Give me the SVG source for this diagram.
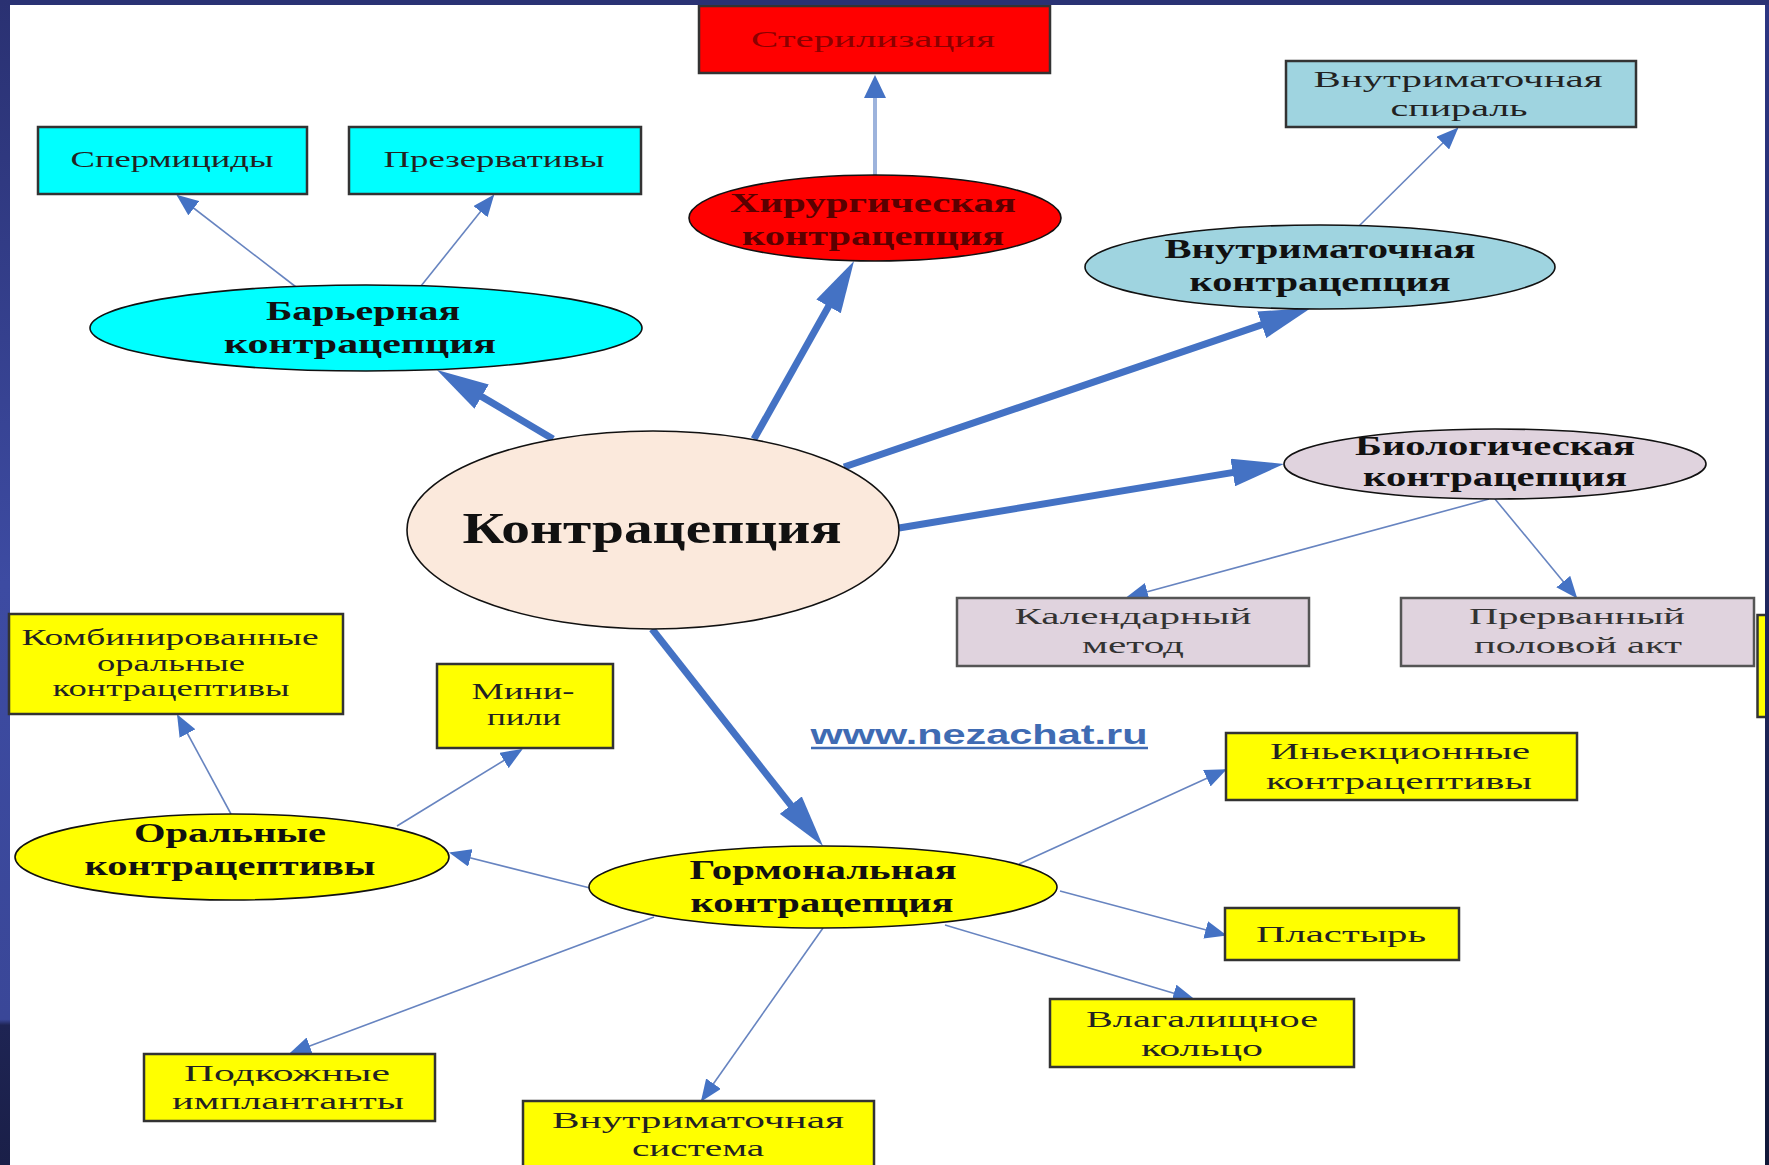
<svg xmlns="http://www.w3.org/2000/svg" width="1769" height="1165" viewBox="0 0 1769 1165">
<defs>
<linearGradient id="lstrip" x1="0" y1="0" x2="0" y2="1">
<stop offset="0" stop-color="#2a3172"/>
<stop offset="0.5" stop-color="#3d4ba2"/>
<stop offset="0.875" stop-color="#3a4798"/>
<stop offset="0.88" stop-color="#1e2453"/>
<stop offset="1" stop-color="#1a1f48"/>
</linearGradient>
<linearGradient id="rstrip" x1="0" y1="0" x2="0" y2="1">
<stop offset="0" stop-color="#2d3682"/>
<stop offset="0.3" stop-color="#252d70"/>
<stop offset="1" stop-color="#121838"/>
</linearGradient>
<marker id="big" markerUnits="userSpaceOnUse" viewBox="0 0 52 28" markerWidth="52" markerHeight="28" refX="36" refY="14" orient="auto">
<path d="M0,0 L52,14 L0,28 z" fill="#4472c4"/>
</marker>
<marker id="small" markerUnits="userSpaceOnUse" viewBox="0 0 22 18" markerWidth="22" markerHeight="18" refX="20" refY="9" orient="auto">
<path d="M0,0 L22,9 L0,18 z" fill="#4472c4"/>
</marker>
</defs>
<style>
.box{stroke:#333;stroke-width:2.5}
.ell{stroke:#111;stroke-width:1.6}
.bt{font-family:"Liberation Serif","Times New Roman",serif;font-size:24px;fill:#222;text-anchor:middle;dominant-baseline:central}
.et{font-family:"Liberation Serif","Times New Roman",serif;font-size:27px;font-weight:bold;fill:#111;text-anchor:middle;dominant-baseline:central}
.thick{stroke:#4472c4;stroke-width:7;fill:none;marker-end:url(#big)}
.thin{stroke:#6784c0;stroke-width:1.6;fill:none;marker-end:url(#small)}
</style>
<rect width="1769" height="1165" fill="#262d6c"/>
<rect x="0" y="0" width="10" height="1165" fill="url(#lstrip)"/>
<rect x="10" y="5" width="1755" height="1160" fill="#ffffff"/>

<g id="connectors">
<line class="thick" x1="553" y1="439" x2="450.7" y2="378.2"/>
<line class="thick" x1="754" y1="439" x2="846.2" y2="275"/>
<line class="thick" x1="844" y1="467" x2="1295.8" y2="313.2"/>
<line class="thick" x1="899" y1="528" x2="1268.2" y2="466.6"/>
<line class="thick" x1="652" y1="629" x2="813.1" y2="833.4"/>
<line x1="875" y1="175" x2="875" y2="95" stroke="#9db3dc" stroke-width="4"/>
<path d="M864,98 L875,75 L886,98 z" fill="#4472c4"/>
<line class="thin" x1="296" y1="287" x2="178" y2="196"/>
<line class="thin" x1="421" y1="286" x2="493" y2="196"/>
<line class="thin" x1="1359" y1="226" x2="1457" y2="129"/>
<line class="thin" x1="1489" y1="499" x2="1128" y2="597"/>
<line class="thin" x1="1495" y1="499" x2="1576" y2="597"/>
<line class="thin" x1="231" y1="814" x2="178" y2="716"/>
<line class="thin" x1="397" y1="826" x2="521" y2="750"/>
<line class="thin" x1="590" y1="888" x2="451" y2="853"/>
<line class="thin" x1="654" y1="917" x2="291" y2="1053"/>
<line class="thin" x1="823" y1="928" x2="702" y2="1100"/>
<line class="thin" x1="1019" y1="864" x2="1225" y2="770"/>
<line class="thin" x1="1060" y1="891" x2="1225" y2="935"/>
<line class="thin" x1="945" y1="925" x2="1193" y2="999"/>
</g>

<g id="sterilization">
<rect class="box" x="699" y="6" width="351" height="67" fill="#ff0000"/>
<text class="bt" x="873" y="39" textLength="244" lengthAdjust="spacingAndGlyphs" style="fill:#8b0000;font-size:23px">Стерилизация</text>
</g>
<g id="surgical">
<ellipse class="ell" cx="875" cy="218" rx="186" ry="43" fill="#ff0000"/>
<text class="et" x="873" y="203" textLength="286" lengthAdjust="spacingAndGlyphs" style="fill:#5a0000">Хирургическая</text>
<text class="et" x="873" y="236" textLength="262" lengthAdjust="spacingAndGlyphs" style="fill:#5a0000">контрацепция</text>
</g>
<g id="spermicides">
<rect class="box" x="38" y="127" width="269" height="67" fill="#00ffff"/>
<text class="bt" x="172" y="159" textLength="203" lengthAdjust="spacingAndGlyphs">Спермициды</text>
</g>
<g id="condoms">
<rect class="box" x="349" y="127" width="292" height="67" fill="#00ffff"/>
<text class="bt" x="494" y="159" textLength="221" lengthAdjust="spacingAndGlyphs">Презервативы</text>
</g>
<g id="barrier">
<ellipse class="ell" cx="366" cy="328" rx="276" ry="43" fill="#00ffff"/>
<text class="et" x="363" y="311" textLength="194" lengthAdjust="spacingAndGlyphs">Барьерная</text>
<text class="et" x="360" y="344" textLength="272" lengthAdjust="spacingAndGlyphs">контрацепция</text>
</g>
<g id="iud">
<rect class="box" x="1286" y="61" width="350" height="66" fill="#9fd4e0"/>
<text class="bt" x="1458" y="79" textLength="289" lengthAdjust="spacingAndGlyphs">Внутриматочная</text>
<text class="bt" x="1459" y="108" textLength="137" lengthAdjust="spacingAndGlyphs">спираль</text>
</g>
<g id="intrauterine">
<ellipse class="ell" cx="1320" cy="267" rx="235" ry="42" fill="#9fd4e0"/>
<text class="et" x="1320" y="249" textLength="311" lengthAdjust="spacingAndGlyphs">Внутриматочная</text>
<text class="et" x="1320" y="282" textLength="261" lengthAdjust="spacingAndGlyphs">контрацепция</text>
</g>
<g id="biological">
<ellipse class="ell" cx="1495" cy="464" rx="211" ry="35" fill="#e0d3de"/>
<text class="et" x="1495" y="446" textLength="280" lengthAdjust="spacingAndGlyphs">Биологическая</text>
<text class="et" x="1495" y="477" textLength="264" lengthAdjust="spacingAndGlyphs">контрацепция</text>
</g>
<g id="calendar">
<rect class="box" x="957" y="598" width="352" height="68" fill="#e0d3de" style="stroke:#555"/>
<text class="bt" x="1133" y="616" textLength="237" lengthAdjust="spacingAndGlyphs" style="fill:#333">Календарный</text>
<text class="bt" x="1133" y="645" textLength="102" lengthAdjust="spacingAndGlyphs" style="fill:#333">метод</text>
</g>
<g id="withdrawal">
<rect class="box" x="1401" y="598" width="353" height="68" fill="#e0d3de" style="stroke:#555"/>
<text class="bt" x="1577" y="616" textLength="216" lengthAdjust="spacingAndGlyphs" style="fill:#333">Прерванный</text>
<text class="bt" x="1578" y="645" textLength="208" lengthAdjust="spacingAndGlyphs" style="fill:#333">половой акт</text>
</g>
<g id="contraception">
<ellipse class="ell" cx="653" cy="530" rx="246" ry="99" fill="#fbe9dc"/>
<text class="et" x="652" y="528" textLength="379" lengthAdjust="spacingAndGlyphs" style="font-size:44px">Контрацепция</text>
</g>
<g id="hormonal">
<ellipse class="ell" cx="823" cy="887" rx="234" ry="41" fill="#ffff00"/>
<text class="et" x="823" y="870" textLength="267" lengthAdjust="spacingAndGlyphs">Гормональная</text>
<text class="et" x="822" y="903" textLength="263" lengthAdjust="spacingAndGlyphs">контрацепция</text>
</g>
<g id="oral">
<ellipse class="ell" cx="232" cy="857" rx="217" ry="43" fill="#ffff00"/>
<text class="et" x="230" y="833" textLength="192" lengthAdjust="spacingAndGlyphs">Оральные</text>
<text class="et" x="230" y="866" textLength="291" lengthAdjust="spacingAndGlyphs">контрацептивы</text>
</g>
<g id="combined">
<rect class="box" x="9" y="614" width="334" height="100" fill="#ffff00"/>
<text class="bt" x="170" y="637" textLength="297" lengthAdjust="spacingAndGlyphs">Комбинированные</text>
<text class="bt" x="171" y="663" textLength="148" lengthAdjust="spacingAndGlyphs">оральные</text>
<text class="bt" x="171" y="688" textLength="237" lengthAdjust="spacingAndGlyphs">контрацептивы</text>
</g>
<g id="minipill">
<rect class="box" x="437" y="664" width="176" height="84" fill="#ffff00"/>
<text class="bt" x="523" y="691" textLength="103" lengthAdjust="spacingAndGlyphs">Мини-</text>
<text class="bt" x="524" y="717" textLength="74" lengthAdjust="spacingAndGlyphs">пили</text>
</g>
<g id="implants">
<rect class="box" x="144" y="1054" width="291" height="67" fill="#ffff00"/>
<text class="bt" x="287" y="1073" textLength="206" lengthAdjust="spacingAndGlyphs">Подкожные</text>
<text class="bt" x="288" y="1101" textLength="232" lengthAdjust="spacingAndGlyphs">имплантанты</text>
</g>
<g id="ius">
<rect class="box" x="523" y="1101" width="351" height="80" fill="#ffff00"/>
<text class="bt" x="698" y="1120" textLength="292" lengthAdjust="spacingAndGlyphs">Внутриматочная</text>
<text class="bt" x="698" y="1148" textLength="132" lengthAdjust="spacingAndGlyphs">система</text>
</g>
<g id="injection">
<rect class="box" x="1226" y="733" width="351" height="67" fill="#ffff00"/>
<text class="bt" x="1400" y="751" textLength="260" lengthAdjust="spacingAndGlyphs">Иньекционные</text>
<text class="bt" x="1399" y="781" textLength="266" lengthAdjust="spacingAndGlyphs">контрацептивы</text>
</g>
<g id="patch">
<rect class="box" x="1225" y="908" width="234" height="52" fill="#ffff00"/>
<text class="bt" x="1341" y="934" textLength="170" lengthAdjust="spacingAndGlyphs">Пластырь</text>
</g>
<g id="ring">
<rect class="box" x="1050" y="999" width="304" height="68" fill="#ffff00"/>
<text class="bt" x="1202" y="1019" textLength="232" lengthAdjust="spacingAndGlyphs">Влагалищное</text>
<text class="bt" x="1202" y="1048" textLength="122" lengthAdjust="spacingAndGlyphs">кольцо</text>
</g>
<g id="partial-box">
<rect class="box" x="1757.5" y="615" width="20" height="102" fill="#ffff00"/>
</g>
<g id="website">
<text x="979" y="735" textLength="337" lengthAdjust="spacingAndGlyphs" style="font-family:'Liberation Sans',Arial,sans-serif;font-size:27px;font-weight:bold;fill:#3f6bb3;text-anchor:middle;dominant-baseline:central">www.nezachat.ru</text>
<line x1="811" y1="748" x2="1148" y2="748" stroke="#3f6bb3" stroke-width="2.5"/>
</g>
<rect x="1765" y="0" width="4" height="1165" fill="url(#rstrip)"/>
<rect x="10" y="0" width="1759" height="5" fill="#2a3274"/>
</svg>
